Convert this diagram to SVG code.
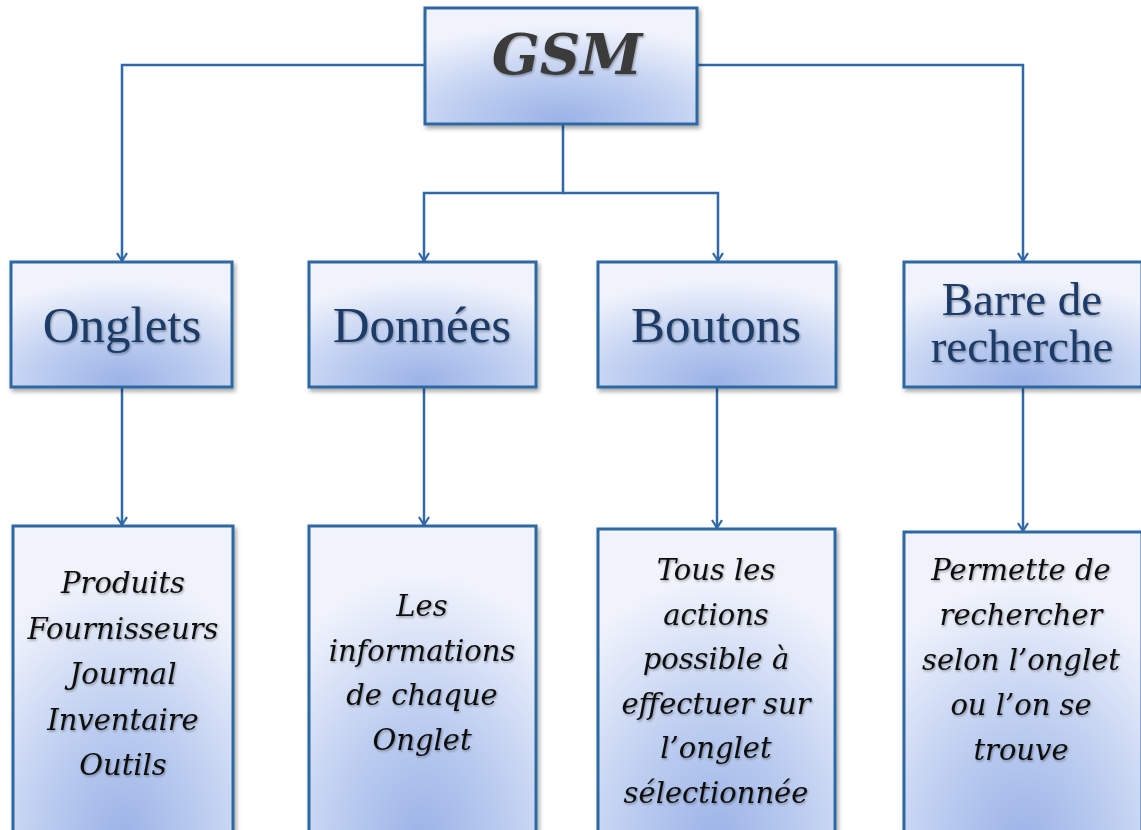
<svg xmlns="http://www.w3.org/2000/svg" width="1141" height="830" viewBox="0 0 1141 830">
<defs>
<radialGradient id="fill" cx="0.5" cy="1" r="0.85" fx="0.5" fy="0.95">
<stop offset="0" stop-color="#9cb3e7"/>
<stop offset="0.45" stop-color="#bccdf0"/>
<stop offset="1" stop-color="#f0f3fc"/>
</radialGradient>
<filter id="sh" x="-10%" y="-10%" width="130%" height="130%">
<feDropShadow dx="2" dy="3" stdDeviation="2" flood-color="#000" flood-opacity="0.35"/>
</filter>
<filter id="tsh" x="-10%" y="-20%" width="130%" height="150%">
<feDropShadow dx="1" dy="1.5" stdDeviation="0.8" flood-color="#000" flood-opacity="0.35"/>
</filter>
<marker id="arr" markerWidth="10" markerHeight="12" refX="9" refY="6" orient="auto" markerUnits="userSpaceOnUse" viewBox="0 0 10 12">
<path d="M1,1 L9,6 L1,11" fill="none" stroke="#2f69a8" stroke-width="2.2"/>
</marker>
</defs>
<style>
.box{fill:url(#fill);stroke:#2f68a3;stroke-width:3;filter:url(#sh)}
.conn{fill:none;stroke:#2f69a8;stroke-width:2.5}
.t1{font-family:"Liberation Serif",serif;font-size:51px;fill:#1b3a66;text-anchor:middle;filter:url(#tsh)}
.t1s{font-size:47px}
.t2{font-family:"DejaVu Serif",serif;font-style:italic;font-size:29px;fill:#111;text-anchor:middle;filter:url(#tsh)}
.t0{font-family:"DejaVu Serif",serif;font-style:italic;font-weight:bold;font-size:56px;fill:#3a3a3a;text-anchor:middle;filter:url(#tsh)}
</style>
<rect width="1141" height="830" fill="#fff"/>
<g id="connectors">
<path class="conn" d="M425,65 H122 V261" marker-end="url(#arr)"/>
<path class="conn" d="M697,65 H1023 V261" marker-end="url(#arr)"/>
<path class="conn" d="M563,125 V193 H424 V261" marker-end="url(#arr)"/>
<path class="conn" d="M563,193 H718 V261" marker-end="url(#arr)"/>
<path class="conn" d="M122,388 V525" marker-end="url(#arr)"/>
<path class="conn" d="M424,387 V525" marker-end="url(#arr)"/>
<path class="conn" d="M717,387 V528" marker-end="url(#arr)"/>
<path class="conn" d="M1023,387 V531" marker-end="url(#arr)"/>
</g>
<g id="gsm">
<rect class="box" x="425" y="8" width="272" height="116"/>
<text class="t0" x="567" y="74">GSM</text>
</g>
<g id="onglets">
<rect class="box" x="11" y="262" width="221" height="125"/>
<text class="t1" x="122" y="342">Onglets</text>
</g>
<g id="donnees">
<rect class="box" x="309" y="262" width="227" height="125"/>
<text class="t1" x="422" y="342">Données</text>
</g>
<g id="boutons">
<rect class="box" x="598" y="262" width="238" height="125"/>
<text class="t1" x="716" y="342">Boutons</text>
</g>
<g id="barre">
<rect class="box" x="904" y="262" width="238" height="125"/>
<text class="t1 t1s" x="1022" y="315">Barre de</text>
<text class="t1 t1s" x="1022" y="362">recherche</text>
</g>
<g id="produits">
<rect class="box" x="13" y="526" width="220" height="330"/>
<text class="t2" x="123" y="593">Produits</text>
<text class="t2" x="123" y="638.5">Fournisseurs</text>
<text class="t2" x="123" y="684">Journal</text>
<text class="t2" x="123" y="729.5">Inventaire</text>
<text class="t2" x="123" y="775">Outils</text>
</g>
<g id="informations">
<rect class="box" x="309" y="526" width="227" height="330"/>
<text class="t2" x="422" y="616">Les</text>
<text class="t2" x="422" y="660.5">informations</text>
<text class="t2" x="422" y="705">de chaque</text>
<text class="t2" x="422" y="749.5">Onglet</text>
</g>
<g id="actions">
<rect class="box" x="598" y="529" width="237" height="330"/>
<text class="t2" x="716" y="580">Tous les</text>
<text class="t2" x="716" y="624.6">actions</text>
<text class="t2" x="716" y="669">possible à</text>
<text class="t2" x="716" y="714">effectuer sur</text>
<text class="t2" x="716" y="758">l’onglet</text>
<text class="t2" x="716" y="803">sélectionnée</text>
</g>
<g id="recherche">
<rect class="box" x="904" y="532" width="238" height="330"/>
<text class="t2" x="1021" y="580">Permette de</text>
<text class="t2" x="1021" y="625">rechercher</text>
<text class="t2" x="1021" y="670">selon l’onglet</text>
<text class="t2" x="1021" y="715">ou l’on se</text>
<text class="t2" x="1021" y="760">trouve</text>
</g>
</svg>
